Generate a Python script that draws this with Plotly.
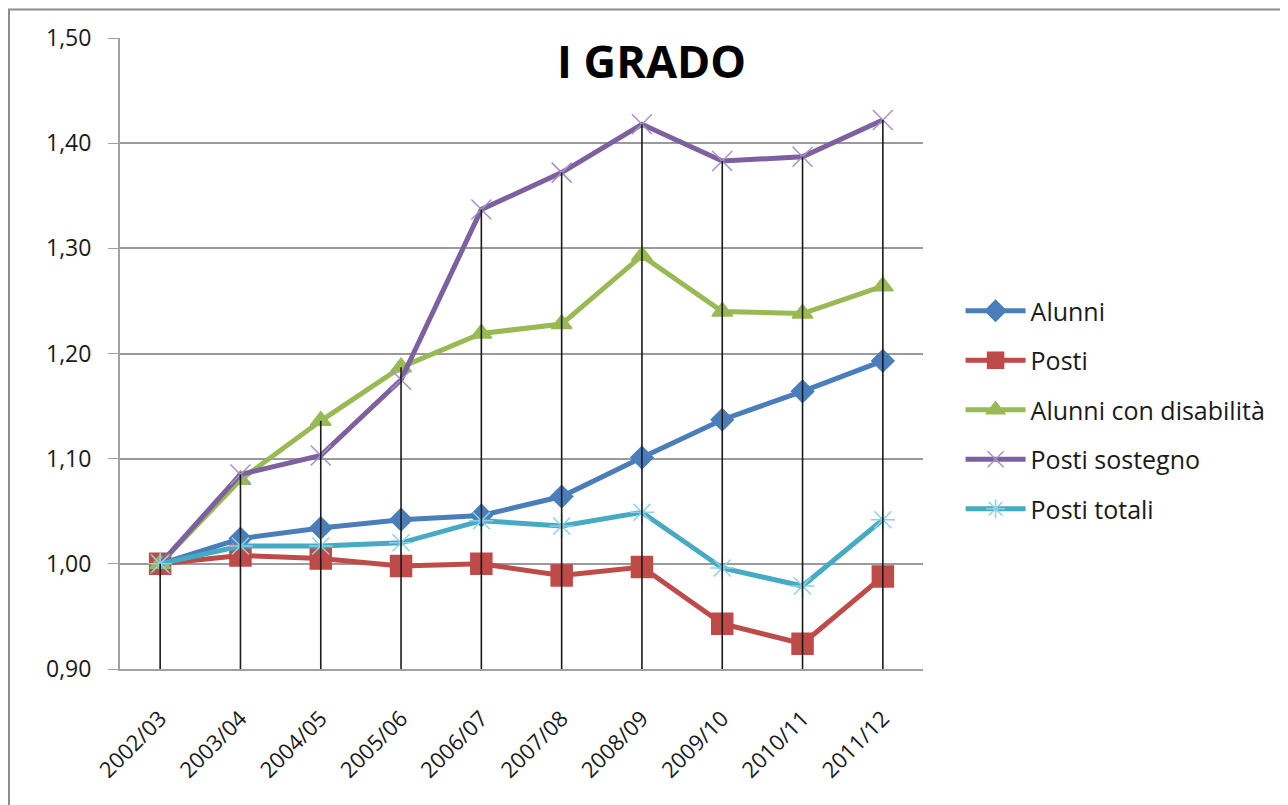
import plotly.graph_objects as go

anni = ["2002/03", "2003/04", "2004/05", "2005/06", "2006/07",
        "2007/08", "2008/09", "2009/10", "2010/11", "2011/12"]

alunni = [1.000, 1.024, 1.034, 1.042, 1.046, 1.064, 1.101, 1.137, 1.164, 1.193]
posti = [1.000, 1.008, 1.005, 0.998, 1.000, 0.989, 0.997, 0.943, 0.924, 0.988]
alunni_disab = [1.000, 1.080, 1.136, 1.187, 1.219, 1.228, 1.293, 1.240, 1.238, 1.264]
posti_sostegno = [1.000, 1.085, 1.103, 1.175, 1.337, 1.372, 1.418, 1.383, 1.387, 1.422]
posti_totali = [1.000, 1.017, 1.017, 1.020, 1.041, 1.036, 1.049, 0.996, 0.979, 1.042]

y_min = 0.90

serie = [
    ("Alunni", alunni, "#4A7EBB", "#4A7EBB", "diamond", 17),
    ("Posti", posti, "#BE4B48", "#BE4B48", "square", 21),
    ("Alunni con disabilità", alunni_disab, "#98B954", "#98B954", "triangle-up", 18),
    ("Posti sostegno", posti_sostegno, "#7D60A0", "#A592C8", "x-thin-open", 20),
    ("Posti totali", posti_totali, "#46AAC5", "#8CD2E6", "asterisk-open", 20),
]

# la pagina html ha 8px di margine: il grafico è spostato di (8, 8)
L, T, W, H = 112, 30, 803, 631

fig = go.Figure()

for i, (nome, valori, col, mcol, simbolo, dim) in enumerate(serie):
    fig.add_trace(go.Scatter(
        x=anni, y=valori, name=nome, mode="lines+markers",
        line=dict(color=col, width=5),
        marker=dict(symbol=simbolo, size=dim, color=mcol,
                    line=dict(color=mcol, width=1.5)),
        legendgroup=str(i),
    ))

# linee di proiezione (drop lines) dal valore massimo all'asse
drop_x, drop_y = [], []
for j, a in enumerate(anni):
    top = max(s[1][j] for s in serie)
    drop_x += [a, a, None]
    drop_y += [top, y_min, None]
fig.add_trace(go.Scatter(x=drop_x, y=drop_y, mode="lines",
                         line=dict(color="#1a1a1a", width=1.6),
                         showlegend=False, hoverinfo="skip"))

fig.add_annotation(text="<b>I GRADO</b>", x=(651 - 8 - L) / W,
                   y=(T + H - (60 - 8)) / H, xanchor="center", yanchor="middle",
                   xref="paper", yref="paper", showarrow=False,
                   font=dict(size=45, color="black", family="Open Sans"))

fig.add_shape(type="rect", xref="paper", yref="paper",
              x0=(1 - L) / W, x1=1.6, y0=-0.5, y1=(T + H - 1.5) / H,
              line=dict(color="#8c8c8c", width=2), layer="below")

fig.update_layout(
    width=1288, height=805,
    margin=dict(l=L, r=1288 - L - W, t=T, b=805 - T - H),
    paper_bgcolor="white", plot_bgcolor="white",
    separators=",.",
    font=dict(family="Open Sans", color="#1a1a1a", size=22),
    legend=dict(x=(967 - 8 - L) / W - 0.008, y=(T + H - (288 - 8)) / H,
                xanchor="left", yanchor="top",
                font=dict(size=25), tracegroupgap=14, traceorder="grouped",
                itemwidth=60, bgcolor="rgba(0,0,0,0)"),
    xaxis=dict(type="category", tickangle=-45, showgrid=False,
               showline=True, linecolor="#a0a0a0", linewidth=2,
               tickfont=dict(size=22), ticks="", range=[-0.5, 9.5],
               ticklabelstandoff=26),
    yaxis=dict(range=[0.90, 1.50], dtick=0.1, tickformat=".2f",
               showgrid=True, gridcolor="#9a9a9a", gridwidth=1.5,
               showline=True, linecolor="#a0a0a0", linewidth=2,
               ticks="outside", ticklen=10, tickcolor="#a0a0a0",
               tickfont=dict(size=23), zeroline=False,
               ticklabelstandoff=12),
)

fig.write_html("out.html")
